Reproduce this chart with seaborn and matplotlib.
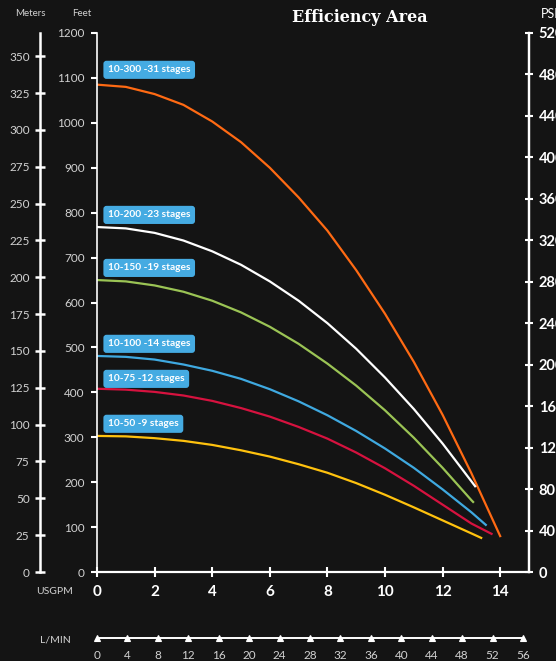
import seaborn as sns
import matplotlib.pyplot as plt
import numpy as np
import pandas as pd

# caudal en USGPM y altura en pies
x_300 = [0, 1, 2, 3, 4, 5, 6, 7, 8, 9, 10, 11, 12, 13, 14]
h_300 = [1085, 1080, 1064, 1040, 1003, 957, 900, 834, 760, 672, 575, 468, 350, 220, 80]
x_200 = [0, 1, 2, 3, 4, 5, 6, 7, 8, 9, 10, 11, 12, 13, 13.13]
h_200 = [768, 765, 755, 738, 714, 684, 647, 604, 554, 497, 433, 363, 286, 202, 191]
x_150 = [0, 1, 2, 3, 4, 5, 6, 7, 8, 9, 10, 11, 12, 13, 13.06]
h_150 = [650, 647, 638, 624, 604, 578, 546, 508, 464, 415, 360, 299, 232, 160, 156]
x_100 = [0, 1, 2, 3, 4, 5, 6, 7, 8, 9, 10, 11, 12, 13, 13.5]
h_100 = [481, 479, 473, 462, 448, 430, 407, 380, 349, 314, 275, 232, 184, 133, 105]
x_75 = [0, 1, 2, 3, 4, 5, 6, 7, 8, 9, 10, 11, 12, 13, 13.7]
h_75 = [408, 406, 401, 393, 381, 365, 346, 323, 297, 266, 231, 192, 150, 108, 85]
x_50 = [0, 1, 2, 3, 4, 5, 6, 7, 8, 9, 10, 11, 12, 13, 13.34]
h_50 = [303, 302, 298, 292, 283, 271, 257, 240, 221, 198, 172, 144, 115, 86, 76]

modelos = ["10-300 -31 stages", "10-200 -23 stages", "10-150 -19 stages",
           "10-100 -14 stages", "10-75 -12 stages", "10-50 -9 stages"]
colores = ["#ff6a13", "#ffffff", "#9bc455", "#3fa9e0", "#d6123f", "#ffc20e"]
etiqueta_y = [1118, 795, 677, 508, 430, 330]

xs = [x_300, x_200, x_150, x_100, x_75, x_50]
hs = [h_300, h_200, h_150, h_100, h_75, h_50]

df = pd.concat([pd.DataFrame({"usgpm": x, "feet": h, "modelo": m})
                for x, h, m in zip(xs, hs, modelos)], ignore_index=True)

fondo = "#141414"
gris = "#d2d2d2"
plt.rcParams['font.family'] = ['Lato', 'DejaVu Sans']

fig = plt.figure(figsize=(5.56, 6.61), dpi=100, facecolor=fondo)
ax = fig.add_axes([0.1745, 0.1346, 0.9514 - 0.1745, 0.9501 - 0.1346])
ax.set_facecolor(fondo)

sns.lineplot(data=df, x="usgpm", y="feet", hue="modelo", palette=colores,
             sort=False, estimator=None, linewidth=1.6, legend=False, ax=ax)

ax.set_xlim(0, 15)
ax.set_ylim(0, 1200)
ax.set_xlabel("")
ax.set_ylabel("")
ax.set_xticks(np.arange(0, 15, 2))
ax.set_yticks(np.arange(0, 1201, 100))
ax.spines['top'].set_visible(False)
for s in ['left', 'bottom', 'right']:
    ax.spines[s].set_color('white')
ax.spines['left'].set_linewidth(1.2)
ax.spines['bottom'].set_linewidth(1.6)
ax.spines['right'].set_linewidth(1.6)
ax.tick_params(axis='y', colors='white', labelcolor=gris, labelsize=8.5,
               length=4, width=1.5, direction='out', pad=5)
ax.tick_params(axis='x', colors='white', labelcolor='white', labelsize=11,
               length=7, width=1.5, direction='inout', pad=6)
for t in ax.get_xticklabels():
    t.set_fontweight('bold')

# etiquetas de los modelos
for m, yv in zip(modelos, etiqueta_y):
    ax.text(0.38, yv, m, color='white', fontsize=7.3, fontweight='bold',
            va='center', ha='left',
            bbox=dict(boxstyle='round,pad=0.45,rounding_size=0.3', fc='#45abe2', ec='none'))

# eje de metros
met = ax.secondary_yaxis(-0.132, functions=(lambda f: f / 3.28084, lambda m: m * 3.28084))
met.set_yticks(np.arange(0, 351, 25))
met.spines['left'].set_color('white')
met.spines['left'].set_linewidth(1.8)
met.tick_params(colors='white', labelcolor=gris, labelsize=8.5, length=7,
                width=1.8, direction='inout', pad=4)

# eje de PSI (las etiquetas quedan cortadas en el borde, como en el original)
psi = ax.secondary_yaxis('right', functions=(lambda f: f / 2.30769, lambda p: p * 2.30769))
psi.set_yticks(np.arange(0, 521, 40))
psi.spines['right'].set_color('white')
psi.spines['right'].set_linewidth(1.6)
psi.tick_params(colors='white', labelcolor='white', labelsize=10.5, length=6,
                width=1.5, direction='inout', pad=4)
for t in psi.get_yticklabels():
    t.set_fontweight('bold')

# eje de litros por minuto
lpm = ax.secondary_xaxis(-0.1224, functions=(lambda g: g * 3.78541, lambda l: l / 3.78541))
lpm.set_xticks(np.arange(0, 57, 4))
lpm.spines['bottom'].set_color('white')
lpm.spines['bottom'].set_linewidth(1.4)
lpm.spines['bottom'].set_bounds(0, 56)
lpm.tick_params(colors='white', labelcolor=gris, labelsize=8.5, pad=5)
for t in lpm.xaxis.get_majorticklines():
    t.set_marker('^')
    t.set_markersize(5)

fig.text(30 / 556, 1 - 13 / 661, "Meters", color=gris, fontsize=7, ha='center', va='center')
fig.text(82 / 556, 1 - 13 / 661, "Feet", color=gris, fontsize=7, ha='center', va='center')
fig.text(541 / 556, 1 - 14 / 661, "PSI", color='white', fontsize=9, ha='left', va='center')
fig.text(55 / 556, 1 - 592 / 661, "USGPM", color=gris, fontsize=7.5, ha='center', va='center')
fig.text(55 / 556, 1 - 640 / 661, "L/MIN", color=gris, fontsize=7.5, ha='center', va='center')
fig.text(360 / 556, 1 - 17 / 661, "Efficiency Area", color='white', fontsize=11.5,
         fontweight='bold', family=['DejaVu Serif'], ha='center', va='center')

fig.savefig("out.png", dpi=100, facecolor=fondo)
